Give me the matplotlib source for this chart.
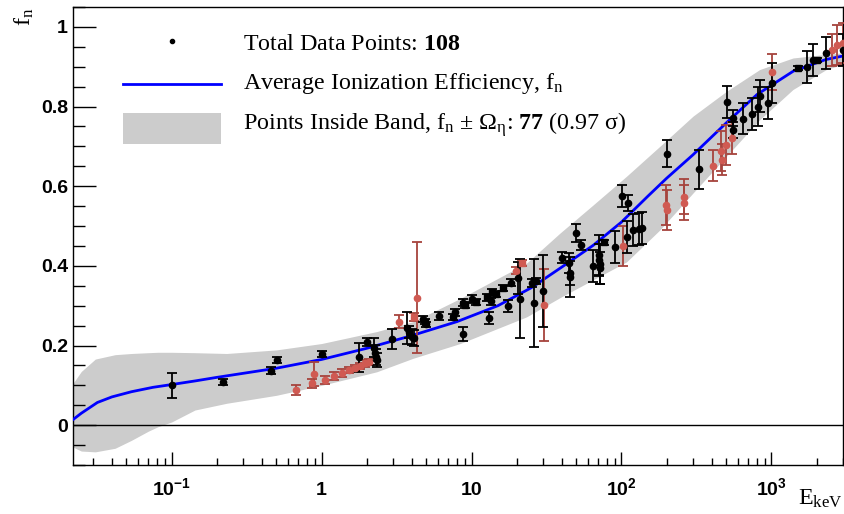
import matplotlib
import matplotlib.pyplot as plt
import numpy as np
from matplotlib.patches import Rectangle
from matplotlib.ticker import LogLocator, MultipleLocator, NullFormatter

matplotlib.use('Agg')

plt.rcParams['font.family'] = 'Liberation Sans'
plt.rcParams['font.weight'] = 'bold'
plt.rcParams['mathtext.fontset'] = 'custom'
plt.rcParams['mathtext.rm'] = 'Liberation Serif:normal'
plt.rcParams['mathtext.it'] = 'Liberation Serif:italic:normal'
plt.rcParams['mathtext.bf'] = 'Liberation Serif:bold'
plt.rcParams['mathtext.sf'] = 'Liberation Sans:bold'

# average ionization efficiency curve
curve_x = [0.022, 0.025, 0.032, 0.04, 0.054, 0.075, 0.1, 0.143, 0.2, 0.5, 1.0, 2.0, 4.0, 8.0,
           15, 25, 40, 65, 100, 150, 200, 300, 500, 800, 1400, 2300, 3000]
curve_y = [0.014, 0.03, 0.057, 0.071, 0.084, 0.095, 0.102, 0.111, 0.12, 0.143, 0.165, 0.193,
           0.225, 0.26, 0.30, 0.345, 0.397, 0.452, 0.51, 0.575, 0.62, 0.679, 0.759, 0.83,
           0.889, 0.918, 0.927]

# band f_n +- Omega_eta
band_x = [0.022, 0.025, 0.031, 0.042, 0.054, 0.07, 0.081, 0.1, 0.143, 0.233, 0.5, 1, 2.33,
          4.08, 8.4, 23.3, 38.8, 64.7, 108, 180, 300, 500, 835, 1393, 2323, 3000]
band_hi = [0.105, 0.135, 0.166, 0.177, 0.18, 0.182, 0.183, 0.183, 0.182, 0.18, 0.189, 0.205,
           0.235, 0.26, 0.318, 0.407, 0.482, 0.553, 0.625, 0.70, 0.776, 0.838, 0.893, 0.922,
           0.931, 0.935]
band_lo = [-0.055, -0.065, -0.067, -0.058, -0.038, -0.015, -0.004, 0.008, 0.038, 0.055, 0.075,
           0.10, 0.134, 0.168, 0.205, 0.272, 0.32, 0.365, 0.41, 0.49, 0.583, 0.675, 0.767,
           0.843, 0.893, 0.906]

# black data points (circles)
blk_x = [0.1, 0.219, 0.457, 0.501, 1.0, 1.78, 2.0, 2.25, 2.28, 2.30, 2.33, 2.97, 3.72, 3.84,
         3.98, 4.12, 4.76, 5.0, 6.08, 7.54, 7.74, 8.71, 8.71, 10.0, 13.0, 13.4, 17.5, 18.3,
         20.5, 20.9, 25.4, 26.0, 27.1, 30.0, 40.4, 44.7, 45.2, 45.6, 50.1, 54.1, 64.7, 70.9,
         71.3, 71.5, 71.8, 91.2, 101, 108, 110, 119.5, 130, 138, 201, 329, 506, 555, 555,
         646, 742, 814, 840, 949, 1015, 1738, 1892, 2327, 2990]
blk_y = [0.10, 0.109, 0.137, 0.164, 0.179, 0.17, 0.208, 0.195, 0.182, 0.172, 0.163, 0.216,
         0.245, 0.235, 0.222, 0.218, 0.266, 0.253, 0.274, 0.272, 0.283, 0.229, 0.308, 0.316,
         0.27, 0.311, 0.30, 0.358, 0.37, 0.318, 0.356, 0.306, 0.362, 0.337, 0.421, 0.407,
         0.383, 0.372, 0.482, 0.453, 0.40, 0.428, 0.415, 0.405, 0.394, 0.447, 0.576, 0.473,
         0.557, 0.49, 0.492, 0.496, 0.682, 0.642, 0.812, 0.772, 0.742, 0.77, 0.781, 0.80,
         0.826, 0.81, 0.86, 0.899, 0.918, 0.935, 0.943]
blk_e = [0.032, 0.008, 0.008, 0.008, 0.008, 0.036, 0.01, 0.025, 0.02, 0.02, 0.018, 0.025,
         0.04, 0.015, 0.02, 0.02, 0.007, 0.007, 0.01, 0.008, 0.008, 0.017, 0.008, 0.01,
         0.015, 0.008, 0.015, 0.008, 0.04, 0.1, 0.01, 0.11, 0.008, 0.09, 0.014, 0.025, 0.03,
         0.05, 0.022, 0.013, 0.04, 0.05, 0.04, 0.05, 0.04, 0.04, 0.027, 0.04, 0.02, 0.04,
         0.04, 0.04, 0.035, 0.05, 0.04, 0.02, 0.02, 0.04, 0.04, 0.05, 0.04, 0.04, 0.05,
         0.04, 0.04, 0.04, 0.04]

# black data points (squares)
blk_sq_x = [4.89, 9.0, 10.7, 12.6, 13.6, 14.5, 16.2, 76.6, 1503, 2027]
blk_sq_y = [0.26, 0.302, 0.31, 0.321, 0.335, 0.33, 0.344, 0.459, 0.896, 0.916]
blk_sq_e = [0.007, 0.008, 0.008, 0.008, 0.008, 0.008, 0.008, 0.006, 0.005, 0.005]

# red data points (circles)
red_x = [0.674, 0.858, 0.888, 1.047, 1.21, 1.36, 1.52, 1.67, 1.80, 1.94, 2.07, 3.29, 4.30,
         19.8, 30.3, 102.5, 199, 201, 260, 262, 405, 464, 468, 501, 549, 1015, 2553, 2757,
         2990]
red_y = [0.088, 0.105, 0.128, 0.113, 0.124, 0.132, 0.138, 0.144, 0.148, 0.155, 0.158, 0.26,
         0.32, 0.388, 0.302, 0.45, 0.552, 0.54, 0.574, 0.559, 0.652, 0.688, 0.667, 0.703,
         0.721, 0.886, 0.943, 0.954, 0.96]
red_e = [0.013, 0.011, 0.03, 0.01, 0.01, 0.01, 0.008, 0.008, 0.008, 0.008, 0.008, 0.017,
         0.14, 0.008, 0.09, 0.05, 0.05, 0.05, 0.045, 0.045, 0.04, 0.05, 0.04, 0.05, 0.04,
         0.045, 0.04, 0.05, 0.05]

# red data points (squares)
red_sq_x = [4.14, 21.8]
red_sq_y = [0.272, 0.407]
red_sq_e = [0.01, 0.008]

xticks = [0.1, 1, 10, 100, 1000]
xtick_labels = [r'$\mathsf{10^{-1}}$', '1', '10', r'$\mathsf{10^{2}}$', r'$\mathsf{10^{3}}$']
yticks = [0, 0.2, 0.4, 0.6, 0.8, 1.0]
ytick_labels = ['0', '0.2', '0.4', '0.6', '0.8', '1']

W, H = 845, 514
fig = plt.figure(figsize=(W / 100, H / 100), dpi=100)
ax = fig.add_axes([73 / W, 1 - 465 / H, (843 - 73) / W, (465 - 7) / H])

ax.fill_between(band_x, band_lo, band_hi, color='#cccccc', lw=0, zorder=1)
ax.axhline(0, color='black', lw=1.0, zorder=2)
ax.plot(curve_x, curve_y, color='#0000ff', lw=2.0, zorder=3)

black = 'black'
red_mk = '#d05a52'
red_err = '#a6433d'
eb = dict(ls='none', capsize=3.5, elinewidth=1.3, capthick=1.3, zorder=4)
ax.errorbar(red_x, red_y, yerr=red_e, fmt='o', ms=4.5, mfc=red_mk, mec=red_mk, ecolor=red_err, **eb)
ax.errorbar(red_sq_x, red_sq_y, yerr=red_sq_e, fmt='s', ms=4.5, mfc=red_mk, mec=red_mk, ecolor=red_err, **eb)
ax.errorbar(blk_x, blk_y, yerr=blk_e, fmt='o', ms=4.5, color=black, **eb)
ax.errorbar(blk_sq_x, blk_sq_y, yerr=blk_sq_e, fmt='s', ms=4.5, color=black, **eb)

ax.set_xscale('log')
ax.set_xlim(0.022, 3000)
ax.set_ylim(-0.1, 1.05)

ax.set_xticks(xticks)
ax.set_xticklabels(xtick_labels)
ax.xaxis.set_minor_locator(LogLocator(base=10, subs=np.arange(2, 10), numticks=20))
ax.xaxis.set_minor_formatter(NullFormatter())
ax.set_yticks(yticks)
ax.set_yticklabels(ytick_labels)
ax.yaxis.set_minor_locator(MultipleLocator(0.05))

ax.tick_params(axis='both', which='both', direction='in', width=1.0, labelsize=14)
ax.tick_params(axis='y', which='major', length=16.8, pad=3.6)
ax.tick_params(axis='y', which='minor', length=8.6)
ax.tick_params(axis='x', which='major', length=9.4, pad=21.6)
ax.tick_params(axis='x', which='minor', length=4.8)
for t in ax.xaxis.get_major_ticks():
    t.label1.set_verticalalignment('baseline')
for s in ax.spines.values():
    s.set_linewidth(1.0)

# legend and axis titles drawn in pixel coordinates
lax = fig.add_axes([0, 0, 1, 1], zorder=5)
lax.set_xlim(0, W)
lax.set_ylim(H, 0)
lax.axis('off')

serif = dict(family='Liberation Serif', weight='normal', fontsize=17.3)
lax.plot([172], [41], 'o', color='black', ms=3)
lax.plot([123, 221], [84, 84], color='#0000ff', lw=2.0)
lax.add_patch(Rectangle((123, 113), 98, 31, color='#cccccc', lw=0))
lax.text(243, 50, r'Total Data Points: $\mathbf{108}$', va='baseline', **serif)
lax.text(243, 88.5, r'Average Ionization Efficiency, f$_{\mathrm{n}}$', va='baseline', **serif)
lax.text(243, 130, r'Points Inside Band, f$_{\mathrm{n}}$ ± Ω$_{\mathrm{\eta}}$: $\mathbf{77}$ (0.97 σ)',
         va='baseline', **serif)

lax.text(843, 505, r'E$_{\mathrm{keV}}$', ha='right', va='baseline', **serif)
lax.text(24, 17, r'f$_{\mathrm{n}}$', ha='center', va='center', rotation=90, **serif)

fig.savefig('out.png', dpi=100)
